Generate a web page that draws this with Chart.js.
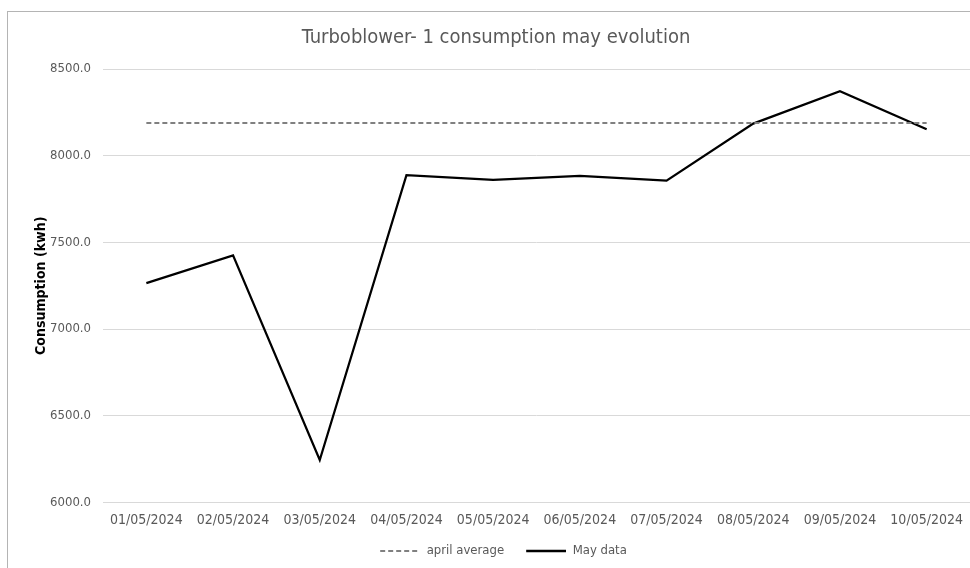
<!DOCTYPE html>
<html>
<head>
<meta charset="utf-8">
<script src="https://cdn.jsdelivr.net/npm/chart.js@4"></script>
<style>
  html, body { margin: 0; padding: 0; background: #ffffff; overflow: hidden; width: 970px; height: 568px; }
  #frame {
    position: absolute; left: 7px; top: 11px; width: 990px; height: 600px;
    border-left: 1px solid #b4b4b4; border-top: 1px solid #b4b4b4; background: #fff;
  }
  #chart { position: absolute; left: 0; top: 0; }
</style>
</head>
<body>
<div id="frame"><canvas id="chart" width="975" height="560"></canvas></div>
<script>
// Daily dates of May 2024
const dates = ['01/05/2024', '02/05/2024', '03/05/2024', '04/05/2024', '05/05/2024',
               '06/05/2024', '07/05/2024', '08/05/2024', '09/05/2024', '10/05/2024'];
// Daily consumption in May (kWh)
const mayData = [7265, 7425, 6245, 7888, 7861, 7883, 7856, 8185, 8372, 8152];
// April average consumption (kWh), repeated for each day
const aprilAverageValue = 8188;
const aprilAverage = dates.map(() => aprilAverageValue);
// Value axis
const yMin = 6000, yMax = 8500, yStep = 500;

const FONT = "'Liberation Sans Narrow', 'DejaVu Sans Condensed', 'Liberation Sans', sans-serif";
const GREY_TEXT = '#595959';
const GRID = '#d9d9d9';
const AVG_COLOR = '#808080';
const MAY_COLOR = '#000000';

// Legend sample: a short line (solid or dashed) with a blank lead-in on its left
function legendSample(color, width, dash) {
  const lead = 15, len = 40, h = 4;
  const c = document.createElement('canvas');
  c.width = lead + len; c.height = h;
  const g = c.getContext('2d');
  g.strokeStyle = color;
  g.lineWidth = width;
  g.setLineDash(dash);
  g.beginPath();
  g.moveTo(lead, h / 2);
  g.lineTo(lead + len, h / 2);
  g.stroke();
  return c;
}

new Chart(document.getElementById('chart'), {
  type: 'line',
  data: {
    labels: dates,
    datasets: [
      {
        label: 'april average',
        data: aprilAverage,
        borderColor: AVG_COLOR,
        borderWidth: 2,
        borderDash: [5, 3],
        pointRadius: 0,
        pointStyle: legendSample(AVG_COLOR, 2, [5, 3]),
        tension: 0,
        fill: false
      },
      {
        label: 'May data',
        data: mayData,
        borderColor: MAY_COLOR,
        borderWidth: 2.25,
        pointRadius: 0,
        pointStyle: legendSample(MAY_COLOR, 2.5, []),
        tension: 0,
        fill: false
      }
    ]
  },
  options: {
    responsive: false,
    devicePixelRatio: 1,
    animation: false,
    events: [],
    layout: { padding: { left: 14, right: 13, top: 0, bottom: 4.5 } },
    plugins: {
      tooltip: { enabled: false },
      title: {
        display: true,
        text: 'Turboblower- 1 consumption may evolution',
        color: GREY_TEXT,
        font: { family: FONT, size: 20, weight: 'normal', lineHeight: 1.2 },
        padding: { top: 14, bottom: 19 }
      },
      legend: {
        position: 'bottom',
        labels: {
          usePointStyle: true,
          pointStyleWidth: 55,
          padding: 7,
          color: GREY_TEXT,
          font: { family: FONT, size: 13 }
        }
      }
    },
    scales: {
      x: {
        offset: true,
        grid: { display: false, drawTicks: false },
        border: { display: true, color: GRID, width: 1 },
        ticks: {
          autoSkip: false, maxRotation: 0, minRotation: 0,
          padding: 10.5,
          color: GREY_TEXT,
          font: { family: FONT, size: 14, lineHeight: 1.0 }
        }
      },
      y: {
        min: yMin,
        max: yMax,
        afterFit: (scale) => { scale.width = 81; },
        grid: { color: GRID, lineWidth: 1, drawTicks: false },
        border: { display: false },
        ticks: {
          stepSize: yStep,
          padding: 12,
          color: GREY_TEXT,
          font: { family: FONT, size: 13 },
          callback: (v) => Number(v).toFixed(1)
        },
        title: {
          display: true,
          text: 'Consumption (kwh)',
          color: '#000000',
          font: { family: FONT, size: 14, weight: 'bold', lineHeight: 1.2 },
          padding: { top: 10.6, bottom: 0 }
        }
      }
    }
  }
});
</script>
</body>
</html>
